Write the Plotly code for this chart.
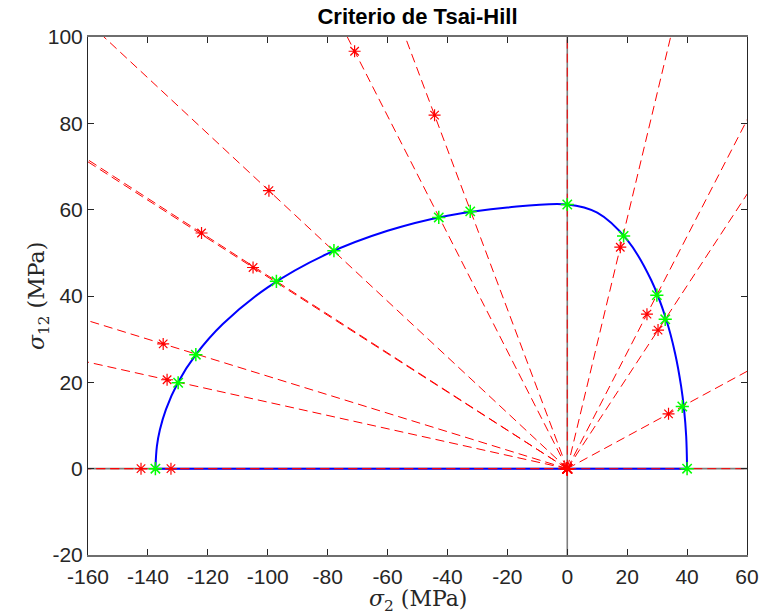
import numpy as np
import plotly.graph_objects as go

# Applied stress states (sigma_2, sigma_12) in MPa, one per load case
load_s2 = [-142.3, -132.3, -133.6, -134.9, -122.1, -104.9, -99.6, -71.0, -44.3, 17.7, 26.6, 30.3, 33.8]
load_s12 = [0.0, 0.0, 20.6, 28.9, 54.6, 46.6, 64.4, 96.7, 81.9, 51.3, 35.8, 32.1, 12.7]

# Failure points on the envelope along each loading direction
fail_s2 = [-137.5, -129.9, -124.0, -97.1, -77.9, -42.9, -32.4, 0.0, 18.8, 29.9, 32.7, 38.4, 40.0]
fail_s12 = [0.0, 19.9, 26.4, 43.4, 50.5, 58.2, 59.6, 61.2, 53.9, 40.2, 34.6, 14.4, 0.0]

# Tsai-Hill envelope (sigma_1 = 0), upper half, tensile limit -> compressive limit
env_s2 = [40.0, 39.7, 39.0, 38.0, 36.0, 33.0, 28.0, 20.0, 10.0, 0.0, -20.0, -40.0,
          -60.0, -80.0, -100.0, -115.0, -124.0, -130.0, -134.0, -136.0, -137.0, -137.5]
env_s12 = [0.0, 7.5, 13.6, 19.1, 26.7, 34.6, 43.7, 53.0, 59.3, 61.2, 60.5, 58.6,
           55.1, 49.8, 42.0, 33.5, 26.4, 19.9, 13.7, 9.0, 5.2, 0.0]

x_ticks = [-160, -140, -120, -100, -80, -60, -40, -20, 0, 20, 40, 60]
x_tick_labels = ["-160", "-140", "-120", "-100", "-80", "-60", "-40", "-20", "0", "20", "40", "60"]
y_ticks = [-20, 0, 20, 40, 60, 80, 100]
y_tick_labels = ["-20", "0", "20", "40", "60", "80", "100"]

RED = "#FF0000"
GREEN = "#00FF00"
BLUE = "#0000FF"
AXIS = "#262626"
TICK_FONT = dict(family="Liberation Sans, Arial, sans-serif", size=21, color=AXIS)
LABEL_FONT = dict(family="DejaVu Serif, Liberation Serif, serif", size=22, color=AXIS)

fig = go.Figure()

# Coordinate axes through the origin
fig.add_hline(y=0, line=dict(color="#7f7f7f", width=1.6), layer="below")
fig.add_vline(x=0, line=dict(color="#7f7f7f", width=1.6), layer="below")

# Origin marker
fig.add_trace(go.Scatter(x=[0], y=[0], mode="markers",
                         marker=dict(symbol="asterisk-open", size=9, color="black",
                                     line=dict(color="black", width=1))))

# Failure envelope and its closing segment along sigma_12 = 0
fig.add_trace(go.Scatter(x=env_s2, y=env_s12, mode="lines",
                         line=dict(color=BLUE, width=2, shape="spline")))
fig.add_trace(go.Scatter(x=[env_s2[0], env_s2[-1]], y=[env_s12[0], env_s12[-1]],
                         mode="lines", line=dict(color=BLUE, width=2)))


def angle(s2, s12):
    return np.degrees(np.arctan2(s12, s2))


# Loading rays: through every applied state, plus failure directions with no applied state shown
ray_pts = list(zip(load_s2, load_s12))
load_angles = [angle(a, b) for a, b in ray_pts]
for a, b in zip(fail_s2, fail_s12):
    if min(abs(angle(a, b) - t) for t in load_angles) > 1.0:
        ray_pts.append((a, b))

REACH = 1000.0
for a, b in ray_pts:
    r = np.hypot(a, b)
    fig.add_trace(go.Scatter(x=[0, a / r * REACH], y=[0, b / r * REACH], mode="lines",
                             line=dict(color=RED, width=1, dash="9px,5px")))

# Origin of each ray and the applied states
fig.add_trace(go.Scatter(x=[0] * len(ray_pts), y=[0] * len(ray_pts), mode="markers",
                         marker=dict(symbol="asterisk-open", size=11, color=RED,
                                     line=dict(color=RED, width=1.2))))
fig.add_trace(go.Scatter(x=load_s2, y=load_s12, mode="markers",
                         marker=dict(symbol="asterisk-open", size=10, color=RED,
                                     line=dict(color=RED, width=1.2))))

# Failure points
fig.add_trace(go.Scatter(x=fail_s2, y=fail_s12, mode="markers",
                         marker=dict(symbol="asterisk-open", size=11, color=GREEN,
                                     line=dict(color=GREEN, width=1.5))))

fig.update_layout(
    width=760, height=615,
    margin=dict(l=88, r=13, t=37, b=60, pad=0),
    paper_bgcolor="white", plot_bgcolor="white",
    showlegend=False,
    title=dict(text="<b>Criterio de Tsai-Hill</b>", x=0.5, xref="paper",
               y=1 - 16 / 615, yref="container", yanchor="middle", xanchor="center",
               font=dict(family="Liberation Sans, Arial, sans-serif", size=22, color="black")),
    xaxis=dict(range=[-160, 60], tickmode="array", tickvals=x_ticks, ticktext=x_tick_labels,
               showgrid=False, zeroline=False, showline=True, linecolor="#6e6e6e", linewidth=1.6,
               mirror="ticks", ticks="inside", ticklen=6, tickwidth=1, tickcolor=AXIS,
               tickfont=TICK_FONT, ticklabelstandoff=2, automargin=False),
    yaxis=dict(range=[-20, 100], tickmode="array", tickvals=y_ticks, ticktext=y_tick_labels,
               showgrid=False, zeroline=False, showline=True, linecolor=AXIS, linewidth=1,
               mirror="ticks", ticks="inside", ticklen=6, tickwidth=1, tickcolor=AXIS,
               tickfont=TICK_FONT, automargin=False),
    annotations=[
        dict(text="<i>σ</i><sub>2</sub> (MPa)", xref="paper", yref="paper",
             x=0.5, y=-(600 - 554.5) / 518, xanchor="center", yanchor="middle",
             showarrow=False, font=LABEL_FONT),
        dict(text="<i>σ</i><sub>12</sub> (MPa)", xref="paper", yref="paper",
             x=(38 - 88) / 659, y=0.5, xanchor="center", yanchor="middle", textangle=-90,
             showarrow=False, font=LABEL_FONT),
    ],
)

fig.write_html("out.html")
